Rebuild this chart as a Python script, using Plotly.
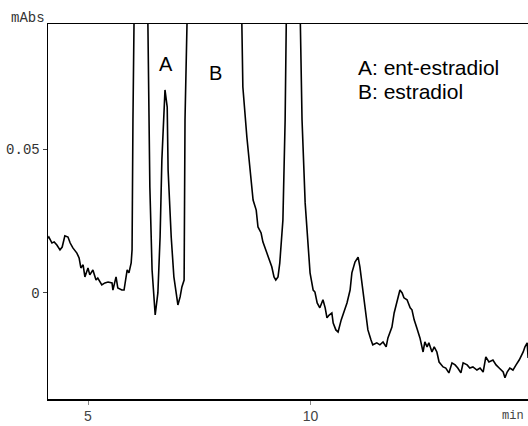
import plotly.graph_objects as go

# Retention time (min) and absorbance (mAbs)
time_min = [
    4.10, 4.12, 4.19, 4.24, 4.30, 4.37, 4.42, 4.48, 4.55, 4.60, 4.66, 4.75, 4.80, 4.84, 4.89, 4.93,
    5.00, 5.04, 5.11, 5.18, 5.22, 5.31, 5.38, 5.45, 5.54, 5.56, 5.63, 5.67, 5.76, 5.81, 5.88, 5.92,
    5.97, 5.99, 6.01, 6.06, 6.18, 6.31, 6.39, 6.44, 6.51, 6.57, 6.62, 6.66, 6.73, 6.78, 6.80, 6.87,
    6.93, 7.02, 7.07, 7.11, 7.16, 7.18, 7.22, 7.90, 8.42, 8.48, 8.57, 8.64, 8.71, 8.78, 8.82, 8.89,
    8.93, 9.02, 9.07, 9.13, 9.18, 9.22, 9.27, 9.31, 9.38, 9.43, 9.49, 9.60, 9.72, 9.81, 9.88, 9.94,
    9.99, 10.06, 10.10, 10.15, 10.21, 10.28, 10.33, 10.37, 10.42, 10.48, 10.51, 10.57, 10.62, 10.69,
    10.73, 10.82, 10.89, 10.93, 11.00, 11.07, 11.11, 11.18, 11.25, 11.29, 11.36, 11.40, 11.49, 11.56,
    11.63, 11.70, 11.74, 11.83, 11.88, 11.94, 12.01, 12.06, 12.10, 12.17, 12.24, 12.28, 12.33, 12.39,
    12.46, 12.53, 12.57, 12.62, 12.66, 12.73, 12.78, 12.84, 12.89, 12.98, 13.04, 13.11, 13.18, 13.25,
    13.31, 13.38, 13.43, 13.52, 13.58, 13.65, 13.74, 13.81, 13.88, 13.94, 14.01, 14.10, 14.17, 14.24,
    14.33, 14.37, 14.42, 14.48, 14.55, 14.62, 14.69, 14.78, 14.82, 14.87, 14.89,
]
absorbance = [
    0.0190, 0.0194, 0.0173, 0.0177, 0.0166, 0.0149, 0.0159, 0.0198, 0.0194, 0.0173, 0.0156, 0.0138,
    0.0121, 0.0086, 0.0097, 0.0055, 0.0086, 0.0062, 0.0079, 0.0044, 0.0051, 0.0027, 0.0034, 0.0037,
    0.0034, 0.0009, 0.0055, 0.0016, 0.0009, 0.0009, 0.0079, 0.0069, 0.0104, 0.0149, 0.0602, 0.1500,
    0.3000, 0.1400, 0.0368, 0.0079, -0.0078, -0.0001, 0.0194, 0.0463, 0.0707, 0.0647, 0.0428, 0.0194,
    0.0055, -0.0043, -0.0015, 0.0020, 0.0044, 0.0602, 0.1500, 0.6000, 0.1300, 0.0717, 0.0543, 0.0428,
    0.0323, 0.0288, 0.0229, 0.0208, 0.0177, 0.0138, 0.0114, 0.0090, 0.0055, 0.0044, 0.0055, 0.0104,
    0.0253, 0.0602, 0.1400, 0.4000, 0.1400, 0.0602, 0.0313, 0.0184, 0.0069, 0.0009, 0.0002, -0.0036,
    -0.0053, -0.0025, -0.0053, -0.0088, -0.0078, -0.0071, -0.0106, -0.0130, -0.0137, -0.0095, -0.0078,
    -0.0036, 0.0009, 0.0069, 0.0107, 0.0124, 0.0090, 0.0009, -0.0071, -0.0130, -0.0165, -0.0182,
    -0.0175, -0.0182, -0.0172, -0.0189, -0.0158, -0.0120, -0.0071, -0.0032, 0.0009, -0.0001, -0.0018,
    -0.0025, -0.0053, -0.0060, -0.0095, -0.0123, -0.0158, -0.0207, -0.0172, -0.0189, -0.0175, -0.0207,
    -0.0189, -0.0207, -0.0242, -0.0259, -0.0263, -0.0280, -0.0245, -0.0252, -0.0263, -0.0280, -0.0245,
    -0.0252, -0.0263, -0.0259, -0.0270, -0.0263, -0.0277, -0.0224, -0.0242, -0.0235, -0.0252, -0.0263,
    -0.0277, -0.0297, -0.0277, -0.0263, -0.0270, -0.0252, -0.0235, -0.0207, -0.0189, -0.0175, -0.0228,
]

x_ticks = [5, 10]
x_tick_labels = ["5", "10"]
y_ticks = [0, 0.05]
y_tick_labels = ["0", "0.05"]

fig = go.Figure()
fig.add_trace(go.Scatter(
    x=time_min, y=absorbance, mode="lines",
    line=dict(color="black", width=1.6),
    showlegend=False, hoverinfo="skip",
))

fig.update_layout(
    width=528, height=426,
    margin=dict(l=48, r=0, t=24, b=27),
    paper_bgcolor="white", plot_bgcolor="white",
    xaxis=dict(
        range=[4.101, 14.888], tickvals=x_ticks, ticktext=x_tick_labels,
        showgrid=False, zeroline=False, showline=True, linecolor="black", linewidth=1.5,
        mirror=True, ticks="outside", ticklen=4, tickcolor="#888",
        tickfont=dict(family="Liberation Sans, Arial", size=14, color="#444"),
    ),
    yaxis=dict(
        range=[-0.0371, 0.0937], tickvals=y_ticks, ticktext=y_tick_labels,
        showgrid=False, zeroline=False, showline=True, linecolor="black", linewidth=1.5,
        ticks="outside", ticklen=4, tickcolor="#444",
        tickfont=dict(family="Liberation Mono, Courier New", size=14, color="#333"),
    ),
    annotations=[
        dict(text="mAbs", xref="paper", yref="paper", x=-0.002, y=1.016, xanchor="right",
             yanchor="middle", showarrow=False,
             font=dict(family="Liberation Mono, Courier New", size=14, color="#333")),
        dict(text="min", xref="paper", yref="paper", x=0.996, y=-0.046, xanchor="right",
             yanchor="middle", showarrow=False,
             font=dict(family="Liberation Mono, Courier New", size=12, color="#444")),
        dict(text="A", xref="paper", yref="paper", x=0.2458, y=0.893, xanchor="center",
             yanchor="middle", showarrow=False,
             font=dict(family="Liberation Sans, Arial", size=20, color="black")),
        dict(text="B", xref="paper", yref="paper", x=0.348, y=0.869, xanchor="center",
             yanchor="middle", showarrow=False,
             font=dict(family="Liberation Sans, Arial", size=20, color="black")),
        dict(text="A: ent-estradiol", xref="paper", yref="paper", x=0.642, y=0.884, xanchor="left",
             yanchor="middle", showarrow=False,
             font=dict(family="Liberation Sans, Arial", size=21, color="black")),
        dict(text="B: estradiol", xref="paper", yref="paper", x=0.642, y=0.8213, xanchor="left",
             yanchor="middle", showarrow=False,
             font=dict(family="Liberation Sans, Arial", size=21, color="black")),
    ],
)

fig.write_html(
    "out.html",
    config={"displayModeBar": False, "staticPlot": True},
    post_script="document.body.style.margin='0';document.body.style.overflow='hidden';",
)
